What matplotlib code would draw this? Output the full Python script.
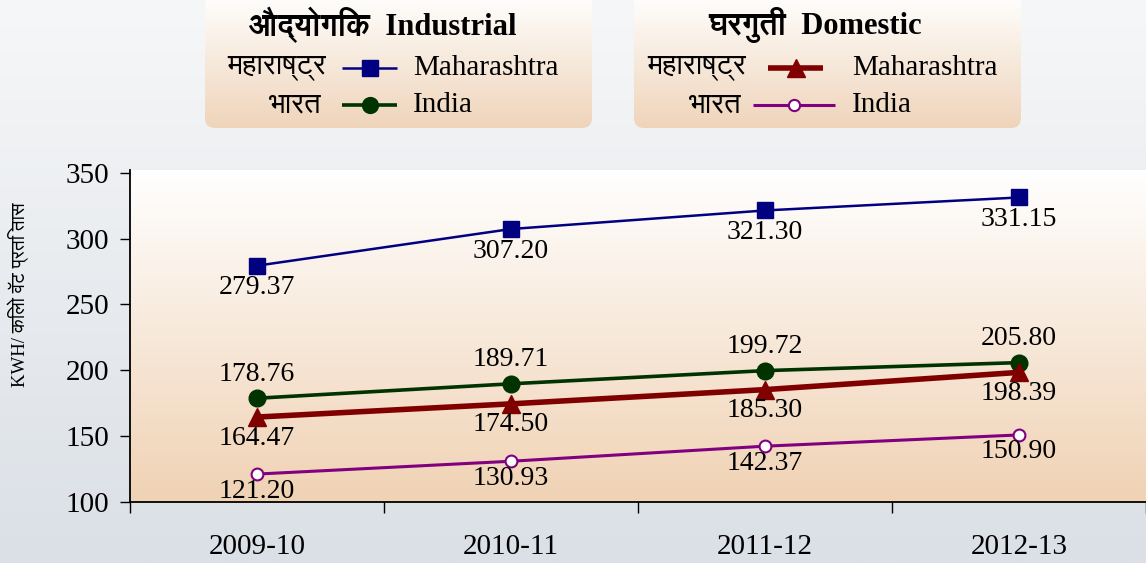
import numpy as np
import matplotlib
matplotlib.use("Agg")
import matplotlib.pyplot as plt
from matplotlib import font_manager as fm
from matplotlib.patches import FancyBboxPatch

# --- data ---
years = ["2009-10", "2010-11", "2011-12", "2012-13"]
ind_maharashtra = [279.37, 307.20, 321.30, 331.15]
ind_india = [178.76, 189.71, 199.72, 205.80]
dom_maharashtra = [164.47, 174.50, 185.30, 198.39]
dom_india = [121.20, 130.93, 142.37, 150.90]
yticks = [100, 150, 200, 250, 300, 350]

# look for any font that can draw Devanagari
deva = []
for f in fm.fontManager.ttflist:
    if any(k in f.name for k in ("Devanagari", "Lohit", "Mukta", "Hind", "Gargi",
                                 "Mangal", "FreeSerif", "FreeSans", "Kalimati")):
        if f.name not in deva:
            deva.append(f.name)
FAM = ["Liberation Serif"] + deva + ["DejaVu Sans"]
plt.rcParams["font.family"] = FAM

W, H = 1146, 563
fig = plt.figure(figsize=(W / 100, H / 100), dpi=100)

# background in pixel coordinates
bg = fig.add_axes([0, 0, 1, 1], zorder=-10)
bg.set_xlim(0, W)
bg.set_ylim(H, 0)
bg.axis("off")


def vgrad(top, bottom, n=256):
    t = np.linspace(0, 1, n)[:, None]
    c0 = np.array(matplotlib.colors.to_rgb(top))
    c1 = np.array(matplotlib.colors.to_rgb(bottom))
    return (c0 * (1 - t) + c1 * t)[:, None, :]


bg.imshow(vgrad("#f6f7f8", "#dbe0e6"), extent=[0, W, H, 0], aspect="auto")

# legend boxes
for x0, x1 in [(205, 592), (634, 1021)]:
    box = FancyBboxPatch((x0, -20), x1 - x0, 148, boxstyle="round,pad=0,rounding_size=10",
                         fc="none", ec="none")
    bg.add_patch(box)
    im = bg.imshow(vgrad("#fefdfb", "#efd4ba"), extent=[x0, x1, 128, 0], aspect="auto")
    im.set_clip_path(box)
bg.set_xlim(0, W)
bg.set_ylim(H, 0)

styles = {
    "im": dict(color="#000080", lw=1.8, marker="s", ms=12, mfc="#000080", mec="#000080"),
    "ii": dict(color="#003300", lw=2.6, marker="o", ms=12, mfc="#003300", mec="#003300"),
    "dm": dict(color="#800000", lw=4.0, marker="^", ms=13, mfc="#800000", mec="#800000"),
    "di": dict(color="#800080", lw=2.2, marker="o", ms=8.5, mfc="white", mec="#800080",
               mew=1.5),
}

tfs = 22
bg.text(383, 25, "औद्योगिक  Industrial", ha="center", va="center", fontsize=tfs,
        fontweight="bold")
bg.text(815, 25, "घरगुती  Domestic", ha="center", va="center", fontsize=tfs,
        fontweight="bold")

lfs = 21
rows = [
    (326, 342, 397, 413, 68, "महाराष्ट्र", "Maharashtra", "im"),
    (322, 342, 397, 413, 105, "भारत", "India", "ii"),
    (746, 768, 823, 852, 68, "महाराष्ट्र", "Maharashtra", "dm"),
    (742, 753, 835, 852, 105, "भारत", "India", "di"),
]
for xr, l0, l1, xt, yy, hi, en, key in rows:
    bg.text(xr, yy, hi, ha="right", va="center", fontsize=lfs)
    st = dict(styles[key])
    bg.plot([l0, l1], [yy, yy], color=st["color"], lw=st["lw"], solid_capstyle="butt")
    bg.plot([(l0 + l1) / 2], [yy], ls="none", marker=st["marker"], ms=st["ms"] * 0.95,
            mfc=st["mfc"], mec=st["mec"], mew=st.get("mew", 1))
    bg.text(xt, yy, en, ha="left", va="center", fontsize=lfs)

# main plot
left, bottom, top = 130, 502, 170
ax = fig.add_axes([left / W, (H - bottom) / H, 1 - left / W, (bottom - top) / H])
ax.set_facecolor("none")
x = np.arange(len(years))
ax.imshow(vgrad("#ffffff", "#f0d2b4"), extent=[0, 1, 0, 1], transform=ax.transAxes,
          aspect="auto", zorder=0)

series = [
    (ind_maharashtra, "im", -22),
    (ind_india, "ii", 24),
    (dom_maharashtra, "dm", -21),
    (dom_india, "di", -17),
]
for vals, key, off in series:
    ax.plot(x, vals, zorder=3, **styles[key])
    for xi, v in zip(x, vals):
        ax.annotate(f"{v:.2f}", (xi, v), xytext=(0, off * 0.72), textcoords="offset points",
                    ha="center", va="center", fontsize=20, zorder=4)

ax.set_xlim(-0.5, 3.5 + (W - 1151) / 255.5)
ax.set_ylim(100, 352)
ax.set_yticks(yticks)
ax.tick_params(axis="y", direction="out", length=7, width=1, labelsize=21, pad=8)
ax.set_xticks(x)
ax.set_xticklabels(years)
ax.tick_params(axis="x", which="major", length=0, labelsize=21, pad=23)
ax.set_xticks(np.arange(-0.5, 4, 1), minor=True)
ax.tick_params(axis="x", which="minor", direction="out", length=8, width=1)
for s in ("top", "right"):
    ax.spines[s].set_visible(False)
for s in ("left", "bottom"):
    ax.spines[s].set_linewidth(1.3)

fig.text(18 / W, 1 - 295 / H, "KWH/ किलो वॅट प्रति तास", rotation=90, ha="center",
         va="center", fontsize=13.5)

fig.savefig("out.png", dpi=100)
